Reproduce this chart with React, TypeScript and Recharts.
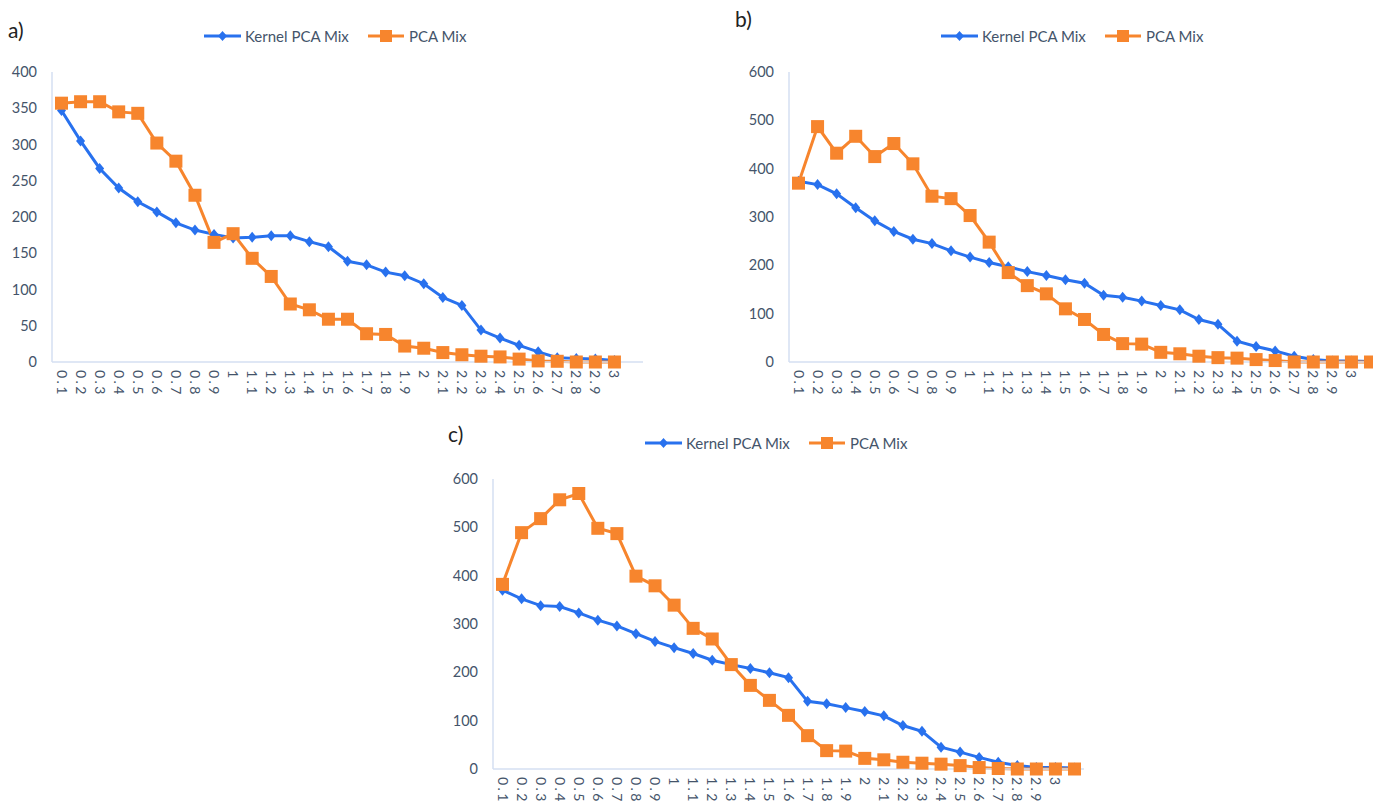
import React from 'react';
import { LineChart, Line, XAxis, YAxis } from 'recharts';

// x categories (the 31st slot has no label)
const categories = [
  '0.1', '0.2', '0.3', '0.4', '0.5', '0.6', '0.7', '0.8', '0.9', '1',
  '1.1', '1.2', '1.3', '1.4', '1.5', '1.6', '1.7', '1.8', '1.9', '2',
  '2.1', '2.2', '2.3', '2.4', '2.5', '2.6', '2.7', '2.8', '2.9', '3', '',
];

// panel a
const kernelA = [347, 305, 267, 240, 221, 207, 192, 182, 176, 171, 172, 174, 174, 166, 159, 139, 134, 124, 119, 108, 89, 78, 44, 33, 23, 14, 6, 5, 4, 2, null];
const pcaA = [357, 359, 359, 345, 343, 302, 277, 230, 165, 177, 143, 118, 80, 72, 59, 59, 39, 38, 22, 19, 13, 10, 8, 7, 4, 1.5, 1, 0, 0, 0, null];
const ticksA = [0, 50, 100, 150, 200, 250, 300, 350, 400];

// panel b
const kernelB = [374, 367, 348, 319, 292, 270, 254, 245, 230, 217, 206, 197, 187, 179, 170, 163, 138, 134, 126, 117, 108, 88, 78, 43, 32, 23, 12, 5, 2, 2, 1];
const pcaB = [370, 487, 432, 467, 425, 452, 410, 343, 338, 303, 248, 185, 158, 141, 110, 88, 57, 38, 37, 20, 17, 12, 9, 8, 5, 3, 0, 0, 0, 0, 0];
const ticksB = [0, 100, 200, 300, 400, 500, 600];

// panel c
const kernelC = [370, 352, 338, 336, 323, 308, 296, 280, 264, 251, 239, 225, 216, 208, 199, 189, 140, 135, 127, 119, 110, 90, 78, 45, 35, 24, 14, 7, 3, 3, 2];
const pcaC = [382, 489, 518, 557, 570, 498, 487, 399, 379, 339, 291, 269, 216, 173, 142, 111, 69, 38, 37, 22, 19, 14, 12, 10, 7, 3, 1, 0, 0, 0, 0];
const ticksC = [0, 100, 200, 300, 400, 500, 600];

const BLUE = '#2871ee';
const ORANGE = '#f7852d';
const TEXT = '#44546a';
const AXIS = '#d5dff2';

const toRows = (kernel: (number | null)[], pca: (number | null)[]) =>
  categories.map((name, i) => ({ name, kernel: kernel[i], pca: pca[i] }));

const Diamond = (props: any) => {
  const { cx, cy, index } = props;
  if (cy == null || cx == null) return <g key={`d${index}`} />;
  return (
    <path
      key={`d${index}`}
      d={`M${cx},${cy - 5.5} L${cx + 4.5},${cy} L${cx},${cy + 5.5} L${cx - 4.5},${cy} Z`}
      fill={BLUE}
    />
  );
};

const Square = (props: any) => {
  const { cx, cy, index } = props;
  if (cy == null || cx == null) return <g key={`s${index}`} />;
  return <rect key={`s${index}`} x={cx - 6.5} y={cy - 6.5} width={13} height={13} fill={ORANGE} />;
};

const XTick = (props: any) => {
  const { x, y, payload } = props;
  return (
    <g transform={`translate(${x - 5},${y + 8}) rotate(90)`}>
      <text x={0} y={0} textAnchor="start" fill={TEXT} fontSize={14} letterSpacing={2.4}>
        {payload.value}
      </text>
    </g>
  );
};

const LegendBox = () => (
  <>
    <div style={{ position: 'absolute', left: 204, top: 27, height: 18, display: 'flex', alignItems: 'center' }}>
      <svg width={37} height={14}>
        <line x1={0} y1={7} x2={37} y2={7} stroke={BLUE} strokeWidth={3} />
        <path d="M18.5,2 L23,7 L18.5,12 L14,7 Z" fill={BLUE} />
      </svg>
      <span style={{ marginLeft: 4, color: TEXT, fontSize: 15 }}>Kernel PCA Mix</span>
    </div>
    <div style={{ position: 'absolute', left: 368, top: 27, height: 18, display: 'flex', alignItems: 'center' }}>
      <svg width={36} height={14}>
        <line x1={0} y1={7} x2={36} y2={7} stroke={ORANGE} strokeWidth={3} />
        <rect x={12} y={1} width={12} height={12} fill={ORANGE} />
      </svg>
      <span style={{ marginLeft: 5, color: TEXT, fontSize: 15 }}>PCA Mix</span>
    </div>
  </>
);

interface PanelProps {
  left: number;
  top: number;
  tag: string;
  tagLeft: number;
  tagTop: number;
  kernel: (number | null)[];
  pca: (number | null)[];
  ticks: number[];
}

const Panel = ({ left, top, tag, tagLeft, tagTop, kernel, pca, ticks }: PanelProps) => {
  const data = toRows(kernel, pca);
  const max = ticks[ticks.length - 1];
  return (
    <div style={{ position: 'absolute', left, top, width: 680, height: 420 }}>
      <div style={{ position: 'absolute', left: tagLeft, top: tagTop, fontSize: 21, color: '#222' }}>{tag}</div>
      <LegendBox />
      <LineChart width={680} height={420} data={data} margin={{ top: 72, right: 37, left: 0, bottom: 8 }}>
        <XAxis
          dataKey="name"
          interval={0}
          tick={<XTick />}
          tickLine={false}
          tickSize={0}
          tickMargin={0}
          height={50}
          padding={{ left: 9.5, right: 9.5 }}
          axisLine={{ stroke: AXIS, strokeWidth: 1.5 }}
        />
        <YAxis
          domain={[0, max]}
          ticks={ticks}
          width={52}
          tickLine={false}
          tickSize={0}
          tickMargin={15}
          axisLine={{ stroke: AXIS, strokeWidth: 1.5 }}
          tick={{ fill: TEXT, fontSize: 14.5 }}
        />
        <Line
          type="linear"
          dataKey="kernel"
          stroke={BLUE}
          strokeWidth={3}
          dot={Diamond}
          activeDot={false}
          isAnimationActive={false}
          connectNulls={false}
        />
        <Line
          type="linear"
          dataKey="pca"
          stroke={ORANGE}
          strokeWidth={3}
          dot={Square}
          activeDot={false}
          isAnimationActive={false}
          connectNulls={false}
        />
      </LineChart>
    </div>
  );
};

export default function App() {
  return (
    <div
      style={{
        position: 'fixed',
        left: 0,
        top: 0,
        width: 1373,
        height: 803,
        overflow: 'hidden',
        background: '#fff',
        fontFamily: 'Lato, "Open Sans", sans-serif',
      }}
    >
      <Panel left={0} top={0} tag="a)" tagLeft={8} tagTop={17} kernel={kernelA} pca={pcaA} ticks={ticksA} />
      <Panel left={737} top={0} tag="b)" tagLeft={-2} tagTop={6} kernel={kernelB} pca={pcaB} ticks={ticksB} />
      <Panel left={441} top={407} tag="c)" tagLeft={7} tagTop={14} kernel={kernelC} pca={pcaC} ticks={ticksC} />
    </div>
  );
}
